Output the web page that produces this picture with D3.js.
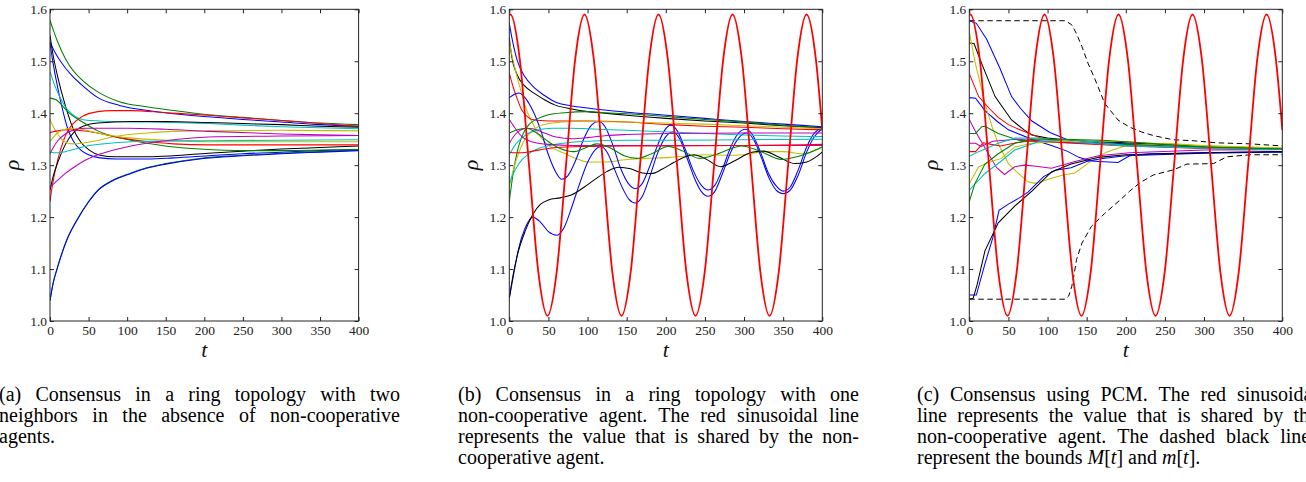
<!DOCTYPE html>
<html><head><meta charset="utf-8">
<script src="https://d3js.org/d3.v7.min.js"></script>
<style>body{margin:0;background:#fff}svg{display:block}</style>
</head><body>
<svg id="fig" width="1306" height="482"></svg>
<script>
// ---------- tick labels ----------
const xTicks = [0, 50, 100, 150, 200, 250, 300, 350, 400];
const yTicks = [1.0, 1.1, 1.2, 1.3, 1.4, 1.5, 1.6];

// ---------- panel (a): ring topology, no non-cooperative agent ----------
const a_g1 = [[0,1.579],[5,1.557],[10,1.537],[20,1.505],[30,1.482],[40,1.466],[62,1.441],[90,1.422],[127,1.412],[160,1.405],[205,1.397],[250,1.392],[300,1.386],[350,1.381],[400,1.378]];
const a_b1 = [[0,1.537],[5,1.521],[10,1.508],[20,1.487],[30,1.47],[40,1.456],[62,1.43],[90,1.415],[127,1.405],[160,1.399],[205,1.393],[250,1.388],[300,1.383],[350,1.378],[400,1.375]];
const a_k1 = [[0,1.55],[4,1.512],[10,1.47],[20,1.414],[30,1.37],[40,1.344],[50,1.33],[65,1.319],[84,1.316],[127,1.316],[160,1.318],[205,1.323],[250,1.327],[300,1.331],[350,1.334],[400,1.337]];
const a_b2 = [[0,1.535],[3,1.505],[8,1.464],[15,1.415],[23,1.37],[30,1.347],[40,1.329],[50,1.32],[65,1.314],[85,1.312],[127,1.312],[160,1.314],[205,1.318],[250,1.322],[300,1.325],[350,1.328],[400,1.33]];
const a_c1 = [[0,1.48],[5,1.458],[10,1.44],[15,1.425],[20,1.412],[28,1.399],[45,1.387],[84,1.384],[127,1.383],[205,1.38],[250,1.377],[300,1.374],[350,1.372],[400,1.37]];
const a_r1 = [[0,1.23],[3,1.26],[10,1.31],[17,1.345],[23,1.366],[30,1.38],[41,1.393],[62,1.403],[80,1.405],[105,1.405],[150,1.401],[205,1.396],[250,1.391],[300,1.386],[350,1.38],[400,1.375]];
const a_k2 = [[0,1.252],[5,1.283],[10,1.305],[20,1.34],[32,1.365],[45,1.376],[62,1.381],[105,1.384],[150,1.384],[205,1.382],[250,1.38],[300,1.378],[350,1.375],[400,1.373]];
const a_g2 = [[0,1.429],[8,1.426],[15,1.416],[25,1.4],[41,1.384],[62,1.366],[80,1.356],[105,1.348],[149,1.337],[205,1.33],[250,1.328],[300,1.328],[350,1.329],[400,1.33]];
const a_y1 = [[0,1.388],[5,1.372],[10,1.36],[15,1.35],[28,1.341],[41,1.342],[60,1.347],[84,1.355],[127,1.362],[160,1.365],[205,1.366],[300,1.367],[400,1.366]];
const a_r2 = [[0,1.363],[10,1.366],[23,1.368],[35,1.367],[62,1.362],[90,1.353],[127,1.345],[160,1.341],[205,1.339],[300,1.339],[400,1.339]];
const a_y2 = [[0,1.345],[5,1.355],[12,1.364],[22,1.37],[32,1.371],[50,1.366],[75,1.358],[100,1.353],[150,1.348],[205,1.345],[300,1.345],[400,1.345]];
const a_m1 = [[0,1.322],[5,1.336],[10,1.347],[20,1.36],[30,1.367],[45,1.371],[100,1.371],[150,1.369],[205,1.365],[300,1.36],[400,1.357]];
const a_c2 = [[0,1.325],[10,1.324],[20,1.326],[30,1.33],[45,1.336],[84,1.343],[127,1.346],[205,1.347],[300,1.348],[400,1.349]];
const a_m2 = [[0,1.258],[10,1.271],[20,1.284],[32,1.297],[45,1.309],[62,1.32],[80,1.328],[105,1.337],[150,1.347],[205,1.354],[300,1.356],[400,1.357]];
const a_g3 = [[0,1.04],[4,1.073],[10,1.105],[21.6,1.156],[34.6,1.194],[50,1.23],[62,1.252],[80,1.27],[105,1.285],[125,1.295],[150,1.303],[194,1.313],[250,1.319],[300,1.323],[350,1.326],[400,1.329]];
const a_b3 = [[0,1.039],[4,1.072],[10,1.104],[21.6,1.155],[34.6,1.193],[50,1.229],[62,1.251],[80,1.269],[105,1.284],[125,1.294],[150,1.302],[194,1.312],[250,1.318],[300,1.322],[350,1.325],[400,1.328]];
const seriesA = [a_b1, a_g1, a_k1, a_b2, a_c1, a_r1, a_k2, a_g2, a_y1, a_r2, a_y2, a_m1, a_c2, a_m2, a_g3, a_b3];
const colorsA = ["b","g","k","b","c","r","k","g","y","r","y","m","c","m","g","b"];

// ---------- panel (b): one non-cooperative agent ----------
const b_b1 = [[0,1.573],[4,1.54],[10,1.502],[20,1.47],[30,1.452],[45,1.434],[58,1.422],[80,1.414],[100,1.41],[122,1.406],[150,1.402],[193,1.397],[250,1.39],[300,1.384],[350,1.379],[400,1.374]];
const b_k1 = [[0,1.545],[3,1.51],[10,1.474],[20,1.452],[30,1.44],[45,1.426],[58,1.416],[80,1.408],[100,1.403],[122,1.4],[150,1.396],[200,1.39],[250,1.385],[300,1.381],[350,1.376],[400,1.372]];
const b_y1 = [[0,1.538],[5,1.5],[10,1.47],[15,1.442],[20,1.415],[30,1.38],[37,1.36],[50,1.338],[67,1.325],[85,1.313],[101,1.306],[125,1.306],[144,1.31],[175,1.313],[205,1.315],[230,1.318],[250,1.32],[278,1.319],[300,1.32],[325,1.326],[350,1.326],[375,1.322],[400,1.335]];
const b_r1 = [[0,1.477],[5,1.45],[10,1.428],[16,1.406],[22,1.395],[29,1.388],[40,1.386],[60,1.385],[100,1.385],[150,1.383],[205,1.378],[250,1.375],[300,1.373],[350,1.37],[400,1.368]];
const b_bA = [[0,1.43],[6,1.436],[12,1.439],[20,1.43],[30,1.405],[40,1.368],[50,1.32],[60,1.285],[67,1.273],[75,1.28],[85,1.31],[95,1.35],[105,1.377],[114,1.384],[122,1.375],[132,1.34],[142,1.295],[152,1.265],[161,1.255],[170,1.265],[180,1.3],[190,1.34],[198,1.366],[207,1.377],[215,1.365],[225,1.33],[235,1.29],[245,1.262],[254,1.252],[263,1.262],[273,1.295],[283,1.335],[292,1.36],[302,1.369],[311,1.358],[321,1.325],[331,1.285],[341,1.26],[350,1.25],[359,1.258],[369,1.29],[380,1.335],[390,1.362],[400,1.373]];
const b_bB = [[0,1.044],[5,1.085],[12,1.14],[20,1.178],[30,1.2],[40,1.19],[50,1.172],[61,1.165],[70,1.18],[80,1.22],[90,1.265],[100,1.305],[110,1.33],[117,1.336],[125,1.325],[135,1.29],[145,1.255],[153,1.234],[161,1.227],[170,1.24],[180,1.28],[190,1.325],[200,1.355],[209,1.364],[218,1.35],[228,1.31],[238,1.27],[246,1.248],[254,1.24],[262,1.248],[272,1.282],[283,1.325],[293,1.352],[303,1.362],[312,1.35],[322,1.315],[332,1.275],[341,1.252],[350,1.245],[359,1.252],[369,1.28],[380,1.325],[390,1.355],[400,1.37]];
const b_k2 = [[0,1.044],[5,1.09],[10,1.125],[20,1.172],[30,1.205],[40,1.225],[50,1.233],[65,1.237],[80,1.243],[95,1.257],[110,1.273],[125,1.288],[140,1.296],[155,1.293],[170,1.285],[182,1.284],[195,1.292],[210,1.305],[225,1.316],[236,1.32],[250,1.313],[270,1.297],[290,1.31],[310,1.325],[325,1.327],[345,1.315],[365,1.303],[380,1.306],[400,1.325]];
const b_g1 = [[0,1.23],[5,1.285],[10,1.325],[16,1.355],[25,1.378],[37,1.39],[50,1.397],[71,1.401],[100,1.403],[122,1.401],[150,1.399],[205,1.393],[250,1.388],[300,1.383],[350,1.377],[400,1.371]];
const b_y2 = [[0,1.258],[5,1.29],[10,1.315],[20,1.35],[30,1.366],[37,1.374],[55,1.381],[80,1.384],[100,1.384],[150,1.383],[200,1.381],[250,1.379],[300,1.376],[350,1.373],[400,1.37]];
const b_c1 = [[0,1.32],[8,1.34],[16,1.352],[25,1.362],[37,1.368],[55,1.371],[80,1.371],[100,1.37],[150,1.367],[205,1.364],[250,1.361],[300,1.358],[350,1.356],[400,1.355]];
const b_c2 = [[0,1.265],[8,1.292],[16,1.31],[25,1.322],[37,1.332],[55,1.339],[80,1.344],[100,1.346],[150,1.348],[205,1.348],[300,1.349],[400,1.35]];
const b_m1 = [[0,1.388],[8,1.37],[16,1.355],[25,1.347],[37,1.342],[50,1.34],[80,1.338],[150,1.338],[250,1.338],[400,1.338]];
const b_m2 = [[0,1.342],[8,1.36],[15,1.368],[22,1.371],[30,1.37],[45,1.362],[60,1.354],[80,1.351],[100,1.353],[125,1.357],[150,1.359],[205,1.361],[300,1.362],[400,1.362]];
const b_r2 = [[0,1.325],[8,1.324],[16,1.324],[30,1.327],[45,1.331],[60,1.334],[100,1.336],[150,1.337],[205,1.337],[300,1.338],[400,1.34]];
const b_g2 = [[0,1.362],[10,1.368],[22,1.371],[35,1.362],[50,1.345],[65,1.332],[82,1.326],[97,1.333],[112,1.341],[128,1.334],[147,1.318],[163,1.313],[182,1.322],[203,1.336],[222,1.327],[243,1.313],[265,1.321],[297,1.337],[320,1.327],[348,1.311],[370,1.317],[400,1.335]];
const seriesB = [b_b1, b_k1, b_y1, b_r1, b_bA, b_bB, b_k2, b_g1, b_y2, b_c1, b_c2, b_m1, b_m2, b_r2, b_g2];
const colorsB = ["b","k","y","r","b","b","k","g","y","c","c","m","m","r","g"];

// value shared by the non-cooperative agent (panels b and c)
const sineRed = [[0,1.589],[1.5,1.59],[13.3,1.505],[25.2,1.30],[37.0,1.095],[48.8,1.01],[60.6,1.095],[72.5,1.30],[84.3,1.505],[96.1,1.59],[107.9,1.505],[119.8,1.30],[131.6,1.095],[143.4,1.01],[155.2,1.095],[167.1,1.30],[178.9,1.505],[190.7,1.59],[202.5,1.505],[214.4,1.30],[226.2,1.095],[238.0,1.01],[249.8,1.095],[261.7,1.30],[273.5,1.505],[285.3,1.59],[297.1,1.505],[309.0,1.30],[320.8,1.095],[332.6,1.01],[344.4,1.095],[356.3,1.30],[368.1,1.505],[379.9,1.59],[391.7,1.505],[400,1.368]];

// ---------- panel (c): PCM ----------
const c_b1 = [[0,1.578],[9,1.573],[22,1.543],[39,1.487],[54,1.432],[65,1.41],[80,1.385],[103,1.363],[124,1.35],[150,1.345],[200,1.341],[250,1.337],[300,1.334],[350,1.332],[400,1.33]];
const c_b2 = [[0,1.43],[8,1.429],[20,1.405],[35,1.385],[50,1.368],[80,1.35],[105,1.338],[125,1.327],[140,1.315],[155,1.308],[190,1.305],[205,1.318],[230,1.322],[300,1.324],[400,1.326]];
const c_k1 = [[0,1.535],[6,1.534],[16,1.495],[33,1.432],[54,1.387],[70,1.368],[80,1.358],[100,1.352],[122,1.349],[150,1.346],[200,1.343],[250,1.34],[300,1.336],[400,1.332]];
const c_y1 = [[0,1.557],[7,1.501],[20,1.418],[30,1.37],[37,1.341],[50,1.303],[62,1.285],[75,1.268],[84,1.265],[95,1.27],[105,1.275],[120,1.281],[135,1.285],[152,1.304],[175,1.325],[200,1.338],[250,1.342],[300,1.338],[400,1.333]];
const c_r1 = [[0,1.476],[12,1.432],[25,1.41],[37,1.392],[50,1.378],[63,1.369],[75,1.362],[92,1.352],[122,1.345],[150,1.342],[200,1.338],[300,1.333],[400,1.33]];
const c_m1 = [[0,1.388],[7,1.367],[24,1.323],[35,1.295],[45,1.282],[58,1.297],[71,1.3],[85,1.298],[105,1.294],[135,1.307],[165,1.318],[205,1.324],[300,1.329],[400,1.33]];
const c_g1 = [[0,1.361],[8,1.361],[16,1.374],[20,1.375],[37,1.361],[63,1.348],[90,1.345],[130,1.343],[200,1.34],[300,1.334],[400,1.331]];
const c_m2 = [[0,1.342],[8,1.342],[15,1.336],[30,1.346],[60,1.35],[100,1.346],[150,1.342],[200,1.338],[300,1.333],[400,1.331]];
const c_r2 = [[0,1.326],[8,1.326],[18,1.343],[28,1.34],[40,1.337],[60,1.343],[80,1.347],[120,1.343],[200,1.337],[300,1.332],[400,1.33]];
const c_c1 = [[0,1.317],[12,1.326],[37,1.342],[58,1.352],[90,1.352],[130,1.345],[200,1.337],[300,1.333],[400,1.33]];
const c_y2 = [[0,1.264],[12,1.297],[28,1.307],[41,1.313],[58,1.335],[80,1.342],[120,1.346],[170,1.347],[200,1.345],[300,1.337],[400,1.333]];
const c_c2 = [[0,1.252],[20,1.284],[41,1.308],[58,1.329],[88,1.345],[120,1.35],[160,1.345],[200,1.338],[300,1.333],[400,1.33]];
const c_g2 = [[0,1.23],[7,1.264],[20,1.302],[37,1.322],[58,1.342],[80,1.35],[120,1.35],[170,1.348],[200,1.345],[300,1.335],[400,1.331]];
const c_b3 = [[0,1.05],[9,1.05],[20,1.11],[30,1.16],[38,1.213],[50,1.225],[65,1.238],[75,1.248],[95,1.278],[110,1.29],[130,1.295],[150,1.307],[170,1.313],[200,1.318],[300,1.323],[400,1.325]];
const c_k2 = [[0,1.042],[5,1.044],[10,1.07],[20,1.135],[37,1.189],[58,1.221],[80,1.25],[105,1.287],[130,1.302],[165,1.315],[200,1.32],[300,1.324],[400,1.326]];
const seriesC = [c_b1, c_b2, c_k1, c_y1, c_r1, c_m1, c_g1, c_m2, c_r2, c_c1, c_y2, c_c2, c_g2, c_b3, c_k2];
const colorsC = ["b","b","k","y","r","m","g","m","r","c","y","c","g","b","k"];
// bounds M[t] and m[t]
const boundUpper = [[0,1.578],[123,1.578],[131,1.57],[137,1.553],[144,1.528],[152,1.495],[161,1.464],[173,1.419],[190,1.387],[205,1.373],[220,1.364],[235,1.357],[260,1.349],[286,1.347],[316,1.343],[359,1.341],[400,1.337]];
const boundLower = [[0,1.042],[123,1.042],[127,1.048],[131,1.067],[134,1.09],[137,1.118],[144,1.15],[156,1.182],[173,1.207],[195,1.236],[205,1.25],[218,1.266],[235,1.281],[261,1.291],[278,1.302],[312,1.303],[329,1.316],[359,1.32],[400,1.32]];

// ---------- captions ----------
const capA = ["(a) Consensus in a ring topology with two", "neighbors in the absence of non-cooperative", "agents."];
const capB = ["(b) Consensus in a ring topology with one", "non-cooperative agent. The red sinusoidal line", "represents the value that is shared by the non-", "cooperative agent."];
const capC = ["(c) Consensus using PCM. The red sinusoidal", "line represents the value that is shared by the", "non-cooperative agent. The dashed black lines", "represent the bounds $M$[$t$] and $m$[$t$]."];

// ---------- drawing ----------
const palette = {b:"#0000ff", g:"#008000", r:"#ff0000", c:"#00bfbf", m:"#bf00bf", y:"#bfbf00", k:"#000000"};
const svg = d3.select("#fig");
const SERIF = "'Liberation Serif','DejaVu Serif',serif";

const panels = [
  {x0: 50, w: 308.6, series: seriesA, colors: colorsA, sine: null, bounds: null, curve: d3.curveMonotoneX},
  {x0: 509.3, w: 313, series: seriesB, colors: colorsB, sine: sineRed, bounds: null, curve: d3.curveMonotoneX},
  {x0: 969.3, w: 313, series: seriesC, colors: colorsC, sine: sineRed, bounds: [boundUpper, boundLower], curve: d3.curveLinear}
];

panels.forEach((p, i) => {
  const x = d3.scaleLinear().domain([0, 400]).range([p.x0, p.x0 + p.w]);
  const y = d3.scaleLinear().domain([1.0, 1.6]).range([321, 9.3]);
  const g = svg.append("g");
  const cid = "clip" + i;
  g.append("clipPath").attr("id", cid).append("rect")
    .attr("x", x(0)).attr("y", y(1.6)).attr("width", x(400) - x(0)).attr("height", y(1.0) - y(1.6));
  const plot = g.append("g").attr("clip-path", `url(#${cid})`);
  const line = d3.line().x(d => x(d[0])).y(d => y(d[1])).curve(p.curve);
  p.series.forEach((s, j) => {
    plot.append("path").attr("d", line(s)).attr("fill", "none")
      .attr("stroke", palette[p.colors[j]]).attr("stroke-width", 1.05);
  });
  if (p.bounds) {
    const lin = d3.line().x(d => x(d[0])).y(d => y(d[1]));
    p.bounds.forEach(b => plot.append("path").attr("d", lin(b)).attr("fill", "none")
      .attr("stroke", "#000").attr("stroke-width", 1).attr("stroke-dasharray", "5.5,3.5"));
  }
  if (p.sine) {
    const sl = d3.line().x(d => x(d[0])).y(d => y(d[1])).curve(d3.curveMonotoneX);
    plot.append("path").attr("d", sl(p.sine)).attr("fill", "none")
      .attr("stroke", palette.r).attr("stroke-width", 1.8);
  }
  // frame
  g.append("rect").attr("x", x(0)).attr("y", y(1.6)).attr("width", x(400) - x(0)).attr("height", y(1.0) - y(1.6))
    .attr("fill", "none").attr("stroke", "#222").attr("stroke-width", 1);
  const styleAxis = sel => {
    sel.select(".domain").remove();
    sel.selectAll("line").attr("stroke", "#222");
    sel.attr("font-family", SERIF).attr("font-size", 13.5);
    sel.selectAll("text").attr("fill", "#222");
  };
  g.append("g").attr("transform", `translate(0,${y(1.0)})`)
    .call(d3.axisBottom(x).tickValues(xTicks).tickSizeInner(-4).tickSizeOuter(0).tickPadding(4).tickFormat(d3.format("d")))
    .call(styleAxis);
  g.append("g").attr("transform", `translate(${x(0)},0)`)
    .call(d3.axisLeft(y).tickValues(yTicks).tickSizeInner(-4).tickSizeOuter(0).tickPadding(3).tickFormat(d3.format(".1f")))
    .call(styleAxis);
  g.append("g").attr("transform", `translate(0,${y(1.6)})`)
    .call(d3.axisTop(x).tickValues(xTicks).tickSizeInner(-4).tickSizeOuter(0).tickFormat(""))
    .call(styleAxis);
  g.append("g").attr("transform", `translate(${x(400)},0)`)
    .call(d3.axisRight(y).tickValues(yTicks).tickSizeInner(-4).tickSizeOuter(0).tickFormat(""))
    .call(styleAxis);
  // axis labels
  g.append("text").attr("x", x(200)).attr("y", 357).attr("text-anchor", "middle")
    .attr("font-family", SERIF).attr("font-style", "italic").attr("font-size", 22).attr("fill", "#111").text("t");
  g.append("text").attr("transform", `translate(${x(0) - 31},165) rotate(-90)`).attr("text-anchor", "middle")
    .attr("font-family", SERIF).attr("font-style", "italic").attr("font-size", 22).attr("fill", "#111").text("ρ");
});

// justified captions
const CAP_FS = 20, CAP_W = 401, CAP_Y0 = 401, CAP_LH = 21;
function measure(word) {
  const t = svg.append("text").attr("font-family", SERIF).attr("font-size", CAP_FS).text(word);
  const w = t.node().getComputedTextLength();
  t.remove();
  return w;
}
function caption(x0, lines) {
  lines.forEach((ln, i) => {
    const yb = CAP_Y0 + i * CAP_LH;
    const last = i === lines.length - 1;
    if (!last) {
      const words = ln.split(" ");
      const ws = words.map(measure);
      const total = d3.sum(ws);
      const gap = (CAP_W - total) / (words.length - 1);
      let cx = x0;
      const t = svg.append("text").attr("font-family", SERIF).attr("font-size", CAP_FS).attr("fill", "#000").attr("y", yb);
      words.forEach((w, k) => { t.append("tspan").attr("x", cx).text(w); cx += ws[k] + gap; });
    } else {
      const t = svg.append("text").attr("font-family", SERIF).attr("font-size", CAP_FS).attr("fill", "#000")
        .attr("x", x0).attr("y", yb).attr("xml:space", "preserve");
      ln.split("$").forEach((part, k) => {
        if (!part) return;
        const ts = t.append("tspan").text(part);
        if (k % 2 === 1) ts.attr("font-style", "italic");
      });
    }
  });
}
caption(-1, capA);
caption(458, capB);
caption(917, capC);
</script>
</body></html>
